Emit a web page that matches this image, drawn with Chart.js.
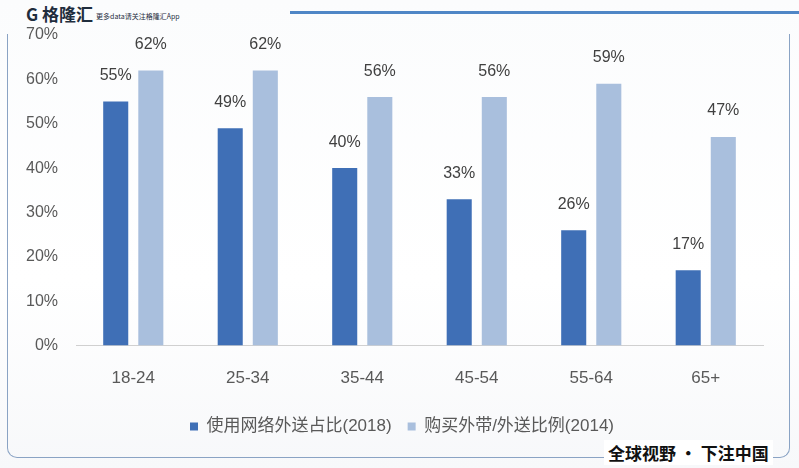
<!DOCTYPE html>
<html>
<head>
<meta charset="utf-8">
<script src="https://cdn.jsdelivr.net/npm/chart.js@4.4.1/dist/chart.umd.min.js"></script>
<style>
  html, body { margin: 0; padding: 0; background: #fff; }
  #wrap { position: relative; width: 799px; height: 468px; overflow: hidden;
          background: linear-gradient(180deg, #fbfcfd 0%, #ffffff 60%, #f7f8fa 100%); }
  #frame { position: absolute; left: 7px; top: 34px; right: 9px; bottom: 10px;
           border: 1.5px solid #8aa3c4; border-top: none; border-radius: 0 0 10px 10px; }
  #topline { position: absolute; left: 290px; right: 0; top: 11px; height: 3px; background: #4f86c6; }
  #logo { position: absolute; left: 26px; top: 1px; font: bold 17px "Noto Sans CJK SC", sans-serif; color: #1f2d3d; }
  #logo span { font: 7px "Noto Sans CJK SC", sans-serif; color: #1f2d3d; margin-left: 3px; vertical-align: middle; }
  #slogan { position: absolute; left: 604px; top: 440px; padding: 0 4px; background: #fff;
            font: bold 17px "Noto Sans CJK SC", sans-serif; color: #111; }
  #liveChart { position: absolute; left: 0; top: 0; }
</style>
</head>
<body>
<div id="wrap">
  <div id="frame"></div>
  <div id="topline"></div>
  <div id="logo">G 格隆汇<span>更多data请关注格隆汇App</span></div>
  <canvas id="liveChart" width="799" height="468"></canvas>
  <div id="slogan">全球视野 · 下注中国</div>
</div>
<script>
const categories = ['18-24', '25-34', '35-44', '45-54', '55-64', '65+'];
const online2018 = [55, 49, 40, 33, 26, 17];
const takeout2014 = [62, 62, 56, 56, 59, 47];
const yTicks = [0, 10, 20, 30, 40, 50, 60, 70];

const fontFamily = '"Liberation Sans", "Noto Sans CJK SC", sans-serif';

// draw the value labels above each bar
const barLabels = {
    id: 'barLabels',
    afterDatasetsDraw(chart) {
        const ctx = chart.ctx;
        ctx.save();
        ctx.font = '16px ' + fontFamily;
        ctx.fillStyle = '#404040';
        ctx.textAlign = 'center';
        ctx.textBaseline = 'bottom';
        chart.data.datasets.forEach((ds, i) => {
            chart.getDatasetMeta(i).data.forEach((bar, j) => {
                ctx.fillText(ds.data[j] + '%', bar.x, bar.y - 18);
            });
        });
        ctx.restore();
    }
};

const ctx = document.getElementById('liveChart').getContext('2d');
const chart = new Chart(ctx, {
    type: 'bar',
    data: {
        labels: categories,
        datasets: [{
            label: '使用网络外送占比(2018)',
            data: online2018,
            backgroundColor: '#3f6fb6',
            categoryPercentage: 0.613,
            barPercentage: 0.714
        }, {
            label: '购买外带/外送比例(2014)',
            data: takeout2014,
            backgroundColor: '#a9bfdd',
            categoryPercentage: 0.613,
            barPercentage: 0.714
        }]
    },
    options: {
        responsive: false,
        animation: false,
        layout: { padding: { left: 16, right: 11, top: 35, bottom: 23 } },
        plugins: {
            legend: {
                position: 'bottom',
                labels: {
                    boxWidth: 8,
                    boxHeight: 8,
                    padding: 16,
                    color: '#595959',
                    font: { size: 17, family: fontFamily }
                }
            },
            tooltip: { enabled: false }
        },
        scales: {
            x: {
                grid: { display: false, drawTicks: false },
                border: { color: '#d0d0d0' },
                ticks: { color: '#595959', padding: 23, font: { size: 17, family: fontFamily } },
                afterFit: scale => { scale.height -= 10; }
            },
            y: {
                min: 0,
                max: 70,
                afterBuildTicks: axis => { axis.ticks = yTicks.map(v => ({ value: v })); },
                grid: { display: false },
                border: { display: false },
                ticks: {
                    color: '#595959',
                    padding: 10,
                    font: { size: 16, family: fontFamily },
                    callback: v => v + '%'
                }
            },
            // empty right-hand axis, only used as blank space right of the bars
            yRight: {
                position: 'right',
                grid: { display: false },
                border: { display: false },
                ticks: { display: false },
                afterFit: scale => { scale.width = 25; }
            }
        }
    },
    plugins: [barLabels]
});
</script>
</body>
</html>
